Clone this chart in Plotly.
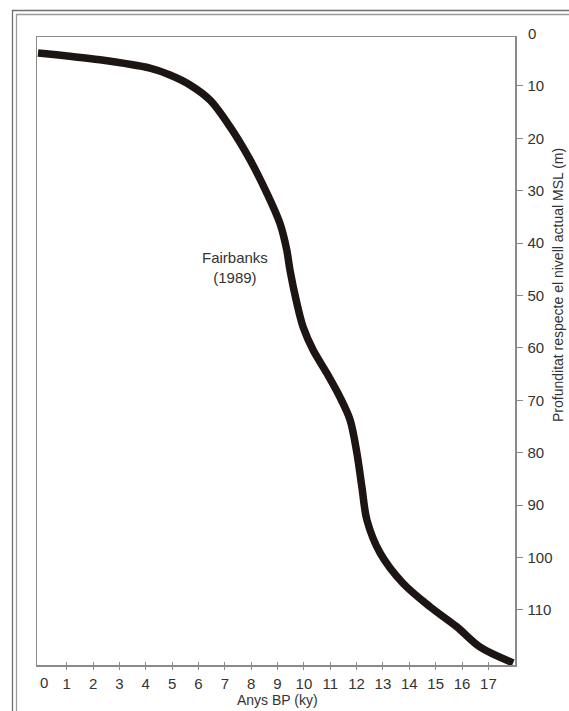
import plotly.graph_objects as go

# ---- data ----
age_ky = [-0.09, 2.26, 4.16, 4.92, 5.68, 6.44, 7.20, 7.96, 8.59, 9.09, 9.35, 9.47,
          9.73, 9.97, 10.35, 10.87, 11.37, 11.75, 12.01, 12.20, 12.39, 12.89, 13.76,
          14.79, 15.80, 16.69, 17.94]
depth_m = [3.7, 5.0, 6.6, 7.9, 9.8, 12.7, 17.8, 24.1, 30.4, 36.2, 41.3, 45.1,
           51.4, 56.0, 60.4, 64.8, 69.4, 73.7, 80.0, 86.5, 92.8, 99.1, 104.9,
           109.4, 113.2, 117.1, 120.1]
x_ticks = list(range(1, 18))
y_ticks = list(range(10, 111, 10))
curve_label = "Fairbanks<br>(1989)"
x_title = "Anys BP (ky)"
y_title = "Profunditat respecte el nivell actual MSL (m)"

# ---- layout geometry ----
W, H = 569, 711
L, T, R, B = 37, 37, 515, 665
X_RANGE = [-0.127, 18.01]
Y_RANGE = [120.5, 0.65]


def px(x):
    return (x - L) / (R - L)


def py(y):
    return (B - y) / (B - T)


AX = "#8a8a8a"
TXT = "#333333"
FONT = "Liberation Sans, Arial, sans-serif"
TICK_FONT = dict(family=FONT, size=15, color=TXT)

fig = go.Figure()
fig.add_trace(go.Scatter(
    x=age_ky, y=depth_m, mode="lines",
    line=dict(color="#1c1513", width=7.5, shape="spline", smoothing=0.9),
    hoverinfo="skip", showlegend=False,
))

fig.update_layout(
    width=W, height=H,
    margin=dict(l=L, r=W - R, t=T, b=H - B, pad=0),
    paper_bgcolor="white", plot_bgcolor="white",
    font=dict(family=FONT, size=14, color=TXT),
    hovermode=False,
    xaxis=dict(range=X_RANGE, tickvals=x_ticks, ticktext=[str(v) for v in x_ticks],
               showgrid=False, zeroline=False, tickcolor=AX, tickwidth=1, ticklen=3,
               tickfont=TICK_FONT, side="bottom", ticks="outside", showline=True,
               linecolor=AX, linewidth=1.5, mirror=True, ticklabelstandoff=1),
    yaxis=dict(range=Y_RANGE, tickvals=y_ticks, ticktext=[str(v) for v in y_ticks],
               showgrid=False, zeroline=False, tickcolor=AX, tickwidth=1, ticklen=6,
               tickfont=TICK_FONT, side="right", ticks="outside", showline=True,
               linecolor=AX, linewidth=1.5, mirror=True, ticklabelstandoff=2),
    xaxis2=dict(range=X_RANGE, tickvals=x_ticks, showgrid=False, zeroline=False,
                tickcolor=AX, tickwidth=1, ticklen=3, overlaying="x", anchor="y",
                side="bottom", ticks="inside", showticklabels=False, showline=False),
    yaxis2=dict(range=Y_RANGE, tickvals=y_ticks, showgrid=False, zeroline=False,
                overlaying="y", anchor="x", side="right", ticks="",
                showticklabels=False, showline=False),
)
# invisible trace to activate the overlay (inner tick) axes
fig.add_trace(go.Scatter(x=[age_ky[0]], y=[depth_m[0]], xaxis="x2", yaxis="y2",
                         mode="markers", marker=dict(opacity=0), hoverinfo="skip",
                         showlegend=False))

# zero labels at the corners
fig.add_annotation(x=px(43.5), y=py(682.5), xref="paper", yref="paper", text="0",
                   showarrow=False, xanchor="center", yanchor="middle", font=TICK_FONT)
fig.add_annotation(x=px(526), y=py(33), xref="paper", yref="paper", text="0",
                   showarrow=False, xanchor="left", yanchor="middle", font=TICK_FONT)

# curve label
fig.add_annotation(x=px(235), y=py(267), xref="paper", yref="paper", text=curve_label,
                   showarrow=False, xanchor="center", yanchor="middle",
                   font=dict(family=FONT, size=15, color=TXT))

# axis titles
fig.add_annotation(x=px(277), y=py(700), xref="paper", yref="paper", text=x_title,
                   showarrow=False, xanchor="center", yanchor="middle",
                   font=dict(family=FONT, size=14, color=TXT))
fig.add_annotation(x=px(558), y=py(285), xref="paper", yref="paper", text=y_title,
                   showarrow=False, xanchor="center", yanchor="middle", textangle=-90,
                   font=dict(family=FONT, size=14, color=TXT))

# outer double frame (open at right and bottom)
for (fx, fy, col) in [(12.5, 10.5, "#6f6f6f"), (16.5, 14.5, "#9a9a9a")]:
    fig.add_shape(type="path", xref="paper", yref="paper",
                  path=f"M {px(fx)},{py(720)} L {px(fx)},{py(fy)} L {px(600)},{py(fy)}",
                  line=dict(color=col, width=1.3), layer="above")

fig.write_html("out.html", config={"displayModeBar": False, "staticPlot": True},
               post_script="document.body.style.margin='0';document.body.style.overflow='hidden';")
